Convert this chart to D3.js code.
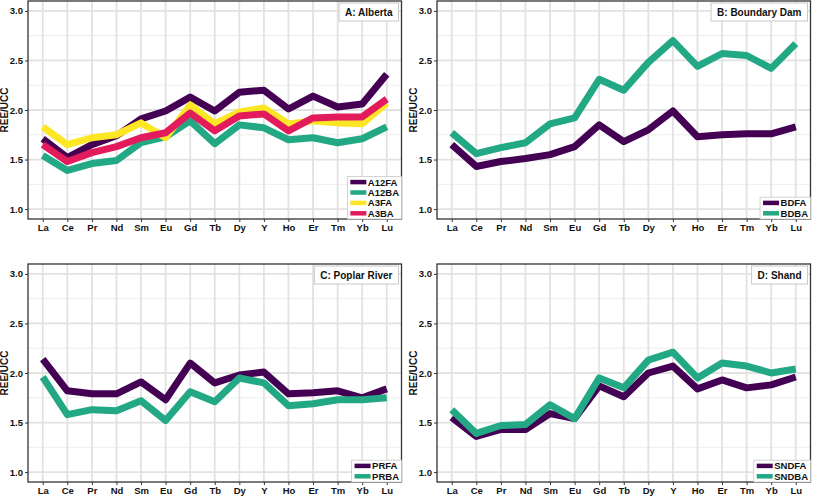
<!DOCTYPE html>
<html>
<head>
<meta charset="utf-8">
<script src="https://cdn.jsdelivr.net/npm/d3@7"></script>
<style>
body { margin: 0; background: #fff; }
svg { display: block; font-family: "Liberation Sans", Arial, sans-serif; }
</style>
</head>
<body>
<svg id="chart" width="813" height="496"></svg>
<script>
const elements = ["La","Ce","Pr","Nd","Sm","Eu","Gd","Tb","Dy","Y","Ho","Er","Tm","Yb","Lu"];
const yTicks = [1.0, 1.5, 2.0, 2.5, 3.0];
const yMinor = [1.25, 1.75, 2.25, 2.75];

const A12FA = [1.71,1.52,1.65,1.74,1.91,1.99,2.13,1.99,2.18,2.20,2.01,2.14,2.03,2.06,2.36];
const A12BA = [1.54,1.39,1.46,1.49,1.67,1.73,1.89,1.66,1.85,1.82,1.70,1.72,1.67,1.71,1.83];
const A3FA  = [1.83,1.65,1.72,1.75,1.87,1.72,2.05,1.86,1.98,2.02,1.86,1.89,1.87,1.86,2.07];
const A3BA  = [1.65,1.48,1.57,1.63,1.72,1.77,1.97,1.79,1.94,1.96,1.79,1.92,1.93,1.93,2.11];

const BDFA = [1.65,1.43,1.48,1.51,1.55,1.63,1.85,1.68,1.80,1.99,1.73,1.75,1.76,1.76,1.83];
const BDBA = [1.77,1.56,1.62,1.67,1.86,1.92,2.31,2.20,2.48,2.70,2.44,2.57,2.55,2.42,2.67];

const PRFA = [2.14,1.82,1.79,1.79,1.91,1.73,2.10,1.90,1.98,2.01,1.79,1.80,1.82,1.75,1.84];
const PRBA = [1.96,1.58,1.63,1.62,1.72,1.52,1.81,1.71,1.95,1.90,1.67,1.69,1.73,1.73,1.75];

const SNDFA = [1.55,1.36,1.43,1.43,1.59,1.54,1.87,1.76,2.00,2.07,1.84,1.93,1.85,1.88,1.96];
const SNDBA = [1.63,1.39,1.47,1.48,1.68,1.54,1.95,1.85,2.13,2.21,1.95,2.10,2.07,2.00,2.04];

const panelTitles = ["A: Alberta","B: Boundary Dam","C: Poplar River","D: Shand"];
const panelSeries = [
  [["A12FA",A12FA],["A12BA",A12BA],["A3FA",A3FA],["A3BA",A3BA]],
  [["BDFA",BDFA],["BDBA",BDBA]],
  [["PRFA",PRFA],["PRBA",PRBA]],
  [["SNDFA",SNDFA],["SNDBA",SNDBA]]
];
const colorOf = {
  A12FA:"#440154", A12BA:"#22A884", A3FA:"#FDE725", A3BA:"#E31A5C",
  BDFA:"#440154", BDBA:"#22A884", PRFA:"#440154", PRBA:"#22A884",
  SNDFA:"#440154", SNDBA:"#22A884"
};

const svg = d3.select("#chart");
const panels = [
  {x:28, y:1}, {x:437, y:1}, {x:28, y:264}, {x:437, y:264}
];
const pw = 373.5, ph = 218;

panels.forEach((p, i) => {
  const g = svg.append("g").attr("transform", `translate(${p.x},${p.y})`);
  const x = d3.scalePoint().domain(elements).range([0, pw]).padding(0.6);
  const y = d3.scaleLinear().domain([0.9, 3.1]).range([ph, 0]);

  // grid
  g.selectAll(".minor").data(yMinor).join("line")
    .attr("x1", 0).attr("x2", pw).attr("y1", d => y(d)).attr("y2", d => y(d))
    .attr("stroke", "#ededed").attr("stroke-width", 1);
  g.selectAll(".majy").data(yTicks).join("line")
    .attr("x1", 0).attr("x2", pw).attr("y1", d => y(d)).attr("y2", d => y(d))
    .attr("stroke", "#e2e2e2").attr("stroke-width", 1.8);
  g.selectAll(".majx").data(elements).join("line")
    .attr("y1", 0).attr("y2", ph).attr("x1", d => x(d)).attr("x2", d => x(d))
    .attr("stroke", "#e2e2e2").attr("stroke-width", 1.8);

  // lines
  const line = d3.line().x((d, k) => x(elements[k])).y(d => y(d));
  panelSeries[i].forEach(([name, vals]) => {
    g.append("path").datum(vals).attr("d", line)
      .attr("fill", "none").attr("stroke", colorOf[name])
      .attr("stroke-width", 7).attr("stroke-linejoin", "round").attr("stroke-linecap", "butt");
  });

  // border
  g.append("rect").attr("width", pw).attr("height", ph)
    .attr("fill", "none").attr("stroke", "#333").attr("stroke-width", 1.3);

  // axes
  const ya = g.append("g").call(d3.axisLeft(y).tickValues(yTicks).tickFormat(d3.format(".1f")).tickSize(3).tickPadding(2));
  ya.select(".domain").remove();
  ya.selectAll("line").attr("stroke", "#333");
  ya.selectAll("text").attr("font-size", 9.5).attr("font-weight", "bold").attr("fill", "#111")
    .attr("font-family", "Liberation Sans, Arial, sans-serif");

  const xa = g.append("g").attr("transform", `translate(0,${ph})`)
    .call(d3.axisBottom(x).tickSize(3).tickPadding(2));
  xa.select(".domain").remove();
  xa.selectAll("line").attr("stroke", "#333");
  xa.selectAll("text").attr("font-size", 9.5).attr("font-weight", "bold").attr("fill", "#111")
    .attr("font-family", "Liberation Sans, Arial, sans-serif");

  // y title
  g.append("text").attr("transform", `translate(-20.5,${ph/2}) rotate(-90)`)
    .attr("text-anchor", "middle").attr("font-size", 10).attr("font-weight", "bold")
    .attr("fill", "#111").text("REE/UCC");

  // panel title box
  const tg = g.append("g");
  const tt = tg.append("text").attr("font-size", 10).attr("font-weight", "bold").attr("fill", "#111")
    .text(panelTitles[i]);
  const tw = tt.node().getComputedTextLength();
  const bw = tw + 12, bh = 18;
  const bx = pw - 3 - bw, by = 2;
  tg.insert("rect", "text").attr("x", bx).attr("y", by).attr("width", bw).attr("height", bh)
    .attr("fill", "#fff").attr("stroke", "#c8c8c8").attr("stroke-width", 1);
  tt.attr("x", bx + 6).attr("y", by + bh/2 + 3.6);

  // legend
  const ser = panelSeries[i];
  const lg = g.append("g");
  const rowH = 10.4;
  const texts = ser.map(([name], k) => lg.append("text").attr("font-size", 9.5).attr("font-weight", "bold")
    .attr("fill", "#111").text(name));
  const maxW = d3.max(texts, t => t.node().getComputedTextLength());
  const lw = maxW + 23, lh = ser.length * rowH + 1;
  const lx = pw - lw, ly = ph - lh;
  lg.insert("rect", "text").attr("x", lx).attr("y", ly).attr("width", lw).attr("height", lh)
    .attr("fill", "#fff").attr("stroke", "#c8c8c8").attr("stroke-width", 0.8);
  ser.forEach(([name], k) => {
    const cy = ly + 0.5 + rowH * (k + 0.5);
    lg.append("line").attr("x1", lx + 3).attr("x2", lx + 19).attr("y1", cy).attr("y2", cy)
      .attr("stroke", colorOf[name]).attr("stroke-width", 4.5);
    texts[k].attr("x", lx + 20.5).attr("y", cy + 3.5);
  });
});
</script>
</body>
</html>
